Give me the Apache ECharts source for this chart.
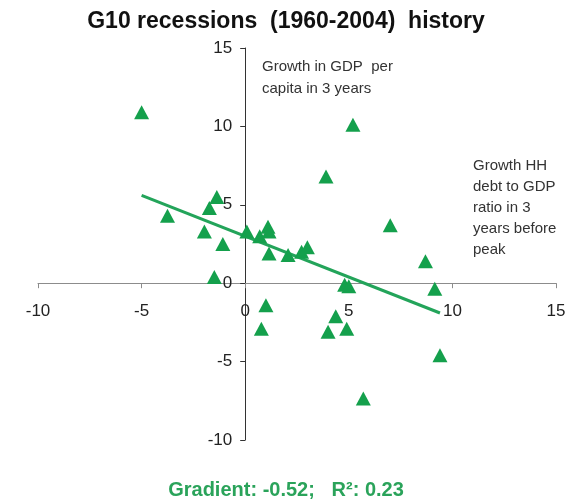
<!DOCTYPE html>
<html>
<head>
<meta charset="utf-8">
<script src="https://cdn.jsdelivr.net/npm/echarts@6/dist/echarts.min.js"></script>
<style>
  html, body { margin: 0; padding: 0; background: #fff; }
  #chart { width: 572px; height: 502px; }
</style>
</head>
<body>
<div id="chart"></div>
<script>
// growth of household debt to GDP (x) vs growth in GDP per capita (y)
const debtGrowth = [-5.0, -3.75, -1.97, -1.73, -1.37, -1.08, -1.49, 0.08, 0.7, 1.15, 1.1, 1.15, 2.07, 2.72, 3.0, 3.9, 5.2, 7.0, 8.7, 9.15, 4.8, 5.0, 1.0, 0.78, 4.37, 4.0, 4.9, 5.7, 9.4]
const gdpGrowth  = [10.9, 4.3, 3.3, 4.8, 5.5, 2.5, 0.4, 3.3, 3.0, 3.3, 3.6, 1.9, 1.8, 2.0, 2.3, 6.8, 10.1, 3.7, 1.4, -0.35, -0.1, -0.2, -1.4, -2.9, -2.1, -3.1, -2.9, -7.35, -4.6]

// regression line end points
const trendX = [-5.0, 9.4]
const trendY = [5.6, -1.9]

const axisTicks = { min: -10, max: 15, interval: 5 }

const green = '#14a04c'
const font = 'Liberation Sans, Arial, sans-serif'

// grid box
const grid = { left: 38, right: 16, top: 48, bottom: 62 }
const plotW = 572 - grid.left - grid.right
const plotH = 502 - grid.top - grid.bottom
const span = axisTicks.max - axisTicks.min
// move the axes onto the zero lines (labels follow the offset)
const xAxisOffset = -plotH * (0 - axisTicks.min) / span
const yAxisOffset = -plotW * (0 - axisTicks.min) / span

const chart = echarts.init(document.getElementById('chart'))

chart.setOption({
  backgroundColor: '#fff',
  animation: false,
  title: {
    text: 'G10 recessions  (1960-2004)  history',
    left: 'center',
    top: 5,
    textStyle: { fontFamily: font, fontSize: 23, fontWeight: 'bold', color: '#111' }
  },
  grid: grid,
  xAxis: {
    type: 'value',
    position: 'bottom',
    offset: xAxisOffset,
    min: axisTicks.min,
    max: axisTicks.max,
    interval: axisTicks.interval,
    splitLine: { show: false },
    axisLine: { onZero: false, lineStyle: { color: '#8c8c8c', width: 1 } },
    axisTick: { show: true, length: 5, lineStyle: { color: '#8c8c8c' } },
    axisLabel: { margin: 20, color: '#222', fontSize: 17, fontFamily: font }
  },
  yAxis: {
    type: 'value',
    position: 'left',
    offset: yAxisOffset,
    min: axisTicks.min,
    max: axisTicks.max,
    interval: axisTicks.interval,
    splitLine: { show: false },
    axisLine: { show: true, onZero: false, lineStyle: { color: '#333', width: 1 } },
    axisTick: { show: true, length: 5, lineStyle: { color: '#333' } },
    axisLabel: { margin: 13, color: '#222', fontSize: 17, fontFamily: font }
  },
  series: [
    {
      type: 'line',
      data: trendX.map((x, i) => [x, trendY[i]]),
      symbol: 'none',
      lineStyle: { color: '#23a45a', width: 3 },
      z: 2
    },
    {
      type: 'scatter',
      data: debtGrowth.map((x, i) => [x, gdpGrowth[i]]),
      symbol: 'triangle',
      symbolSize: [15, 14],
      itemStyle: { color: green, opacity: 1 },
      z: 3
    }
  ],
  graphic: [
    {
      type: 'text',
      left: 262,
      top: 56,
      style: {
        text: 'Growth in GDP  per\ncapita in 3 years',
        fontFamily: font,
        fontSize: 15,
        lineHeight: 22,
        fill: '#333'
      }
    },
    {
      type: 'text',
      left: 473,
      top: 155,
      style: {
        text: 'Growth HH\ndebt to GDP\nratio in 3\nyears before\npeak',
        fontFamily: font,
        fontSize: 15,
        lineHeight: 21,
        fill: '#333'
      }
    },
    {
      type: 'text',
      left: 'center',
      top: 480,
      style: {
        text: 'Gradient: -0.52;   R\u00b2: 0.23',
        fontFamily: font,
        fontSize: 20,
        fontWeight: 'bold',
        fill: '#2aa35a'
      }
    }
  ]
})

window.addEventListener('resize', () => chart.resize())
</script>
</body>
</html>
